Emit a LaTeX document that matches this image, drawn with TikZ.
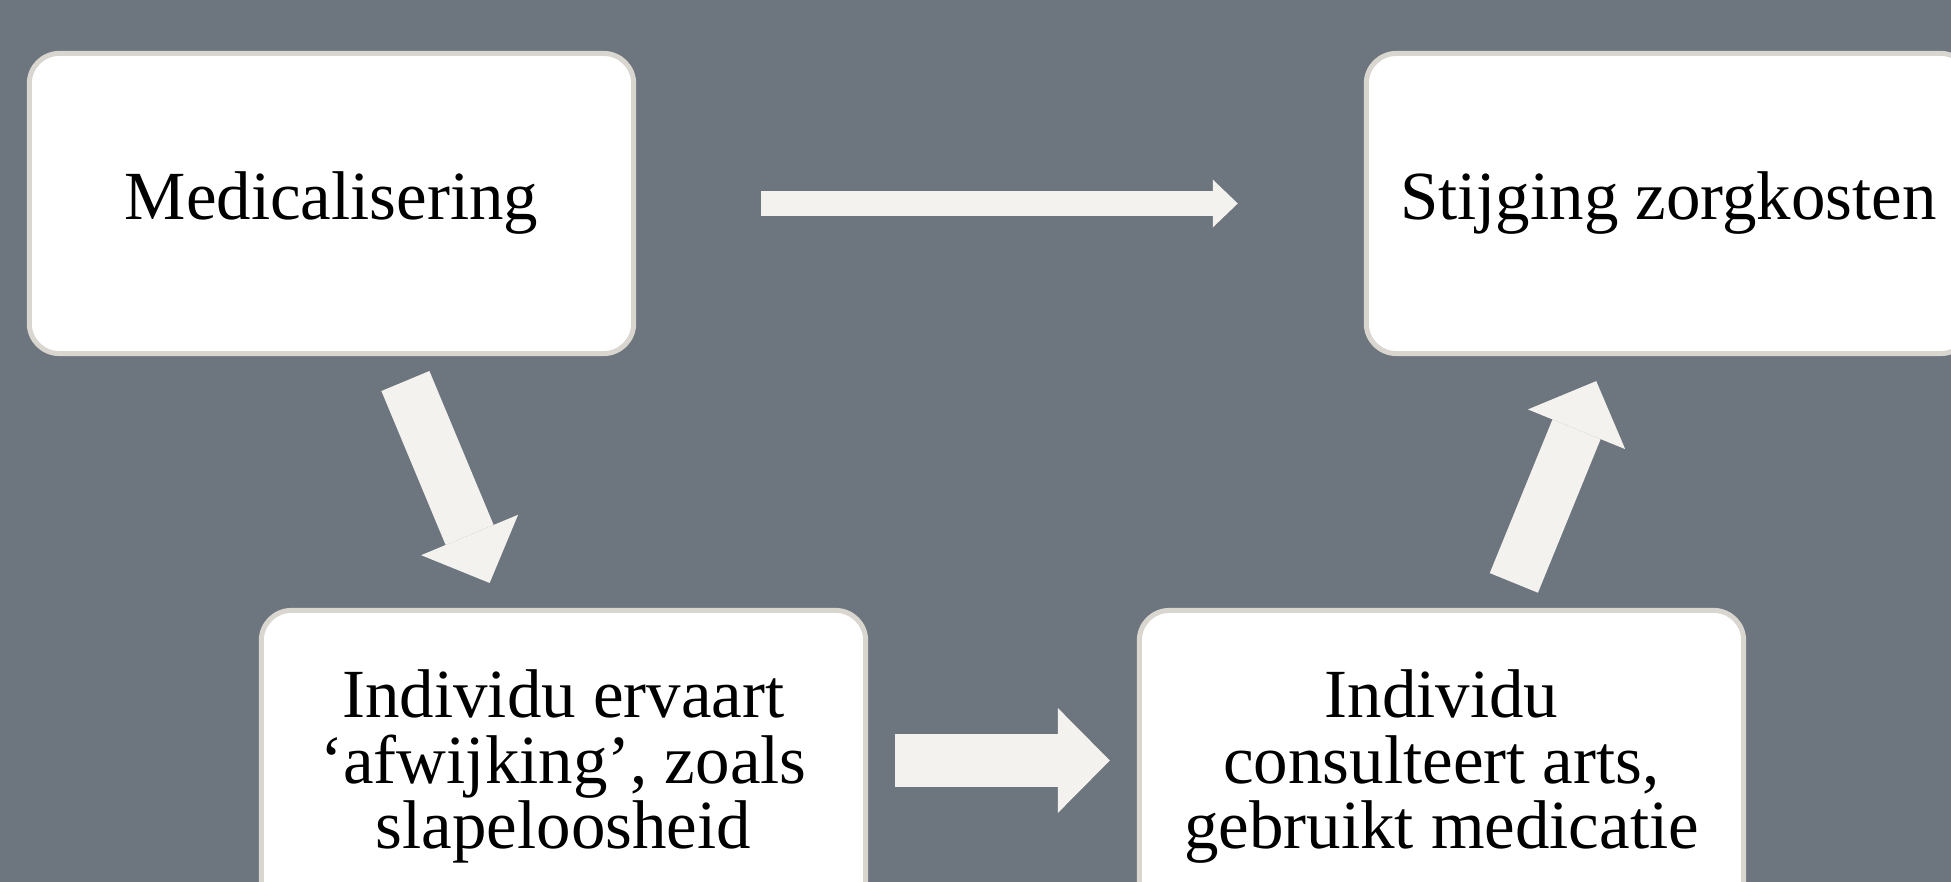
\documentclass[tikz,border=0pt]{standalone}
\usepackage{fontspec}
\setmainfont{Liberation Serif}
\usetikzlibrary{arrows.meta}
\definecolor{slate1}{RGB}{109, 117, 126}
\definecolor{rim1}{RGB}{217, 214, 208}
\definecolor{cream1}{RGB}{243, 242, 238}

\begin{document}
\begin{tikzpicture}[x=0.01cm, y=-0.01cm,
  box/.style={rectangle, rounded corners=3mm, draw=rim1, line width=0.5mm, fill=white,
    minimum width=6.04cm, minimum height=3cm, inner sep=0pt, align=center,
    font=\fontsize{19.6}{18.7}\selectfont},
  bigarrow/.style={draw=cream1, line width=5.2mm,
    -{Triangle[length=5.2mm, width=10.5mm, line width=0pt, fill=cream1]},
    shorten <=2.7mm, shorten >=2.7mm},
  longarrow/.style={draw=cream1, line width=2.4mm,
    -{Triangle[length=2.5mm, width=4.8mm, line width=0pt, fill=cream1]},
    shorten <=12.5mm, shorten >=12.6mm}]
  \fill[slate1] (0,0) rectangle (1951,882);
  \useasboundingbox (0,0) rectangle (1951,882);
  \node[box] (med) at (331.5,203.5) {Medicalisering};
  \node[box] (zorg) at (1668.5,203.5) {Stijging zorgkosten};
  \node[box] (afw) at (563.5,760.5) {\rule{0pt}{6mm}Individu ervaart\\‘afwijking’, zoals\\slapeloosheid};
  \node[box] (arts) at (1441.5,760.5) {\rule{0pt}{6mm}Individu\\consulteert arts,\\gebruikt medicatie};
  \foreach \from/\to in {med/afw, afw/arts, arts/zorg}
   \draw[bigarrow] (\from) -- (\to);
  \draw[longarrow] (med) -- (zorg);
\end{tikzpicture}
\end{document}
